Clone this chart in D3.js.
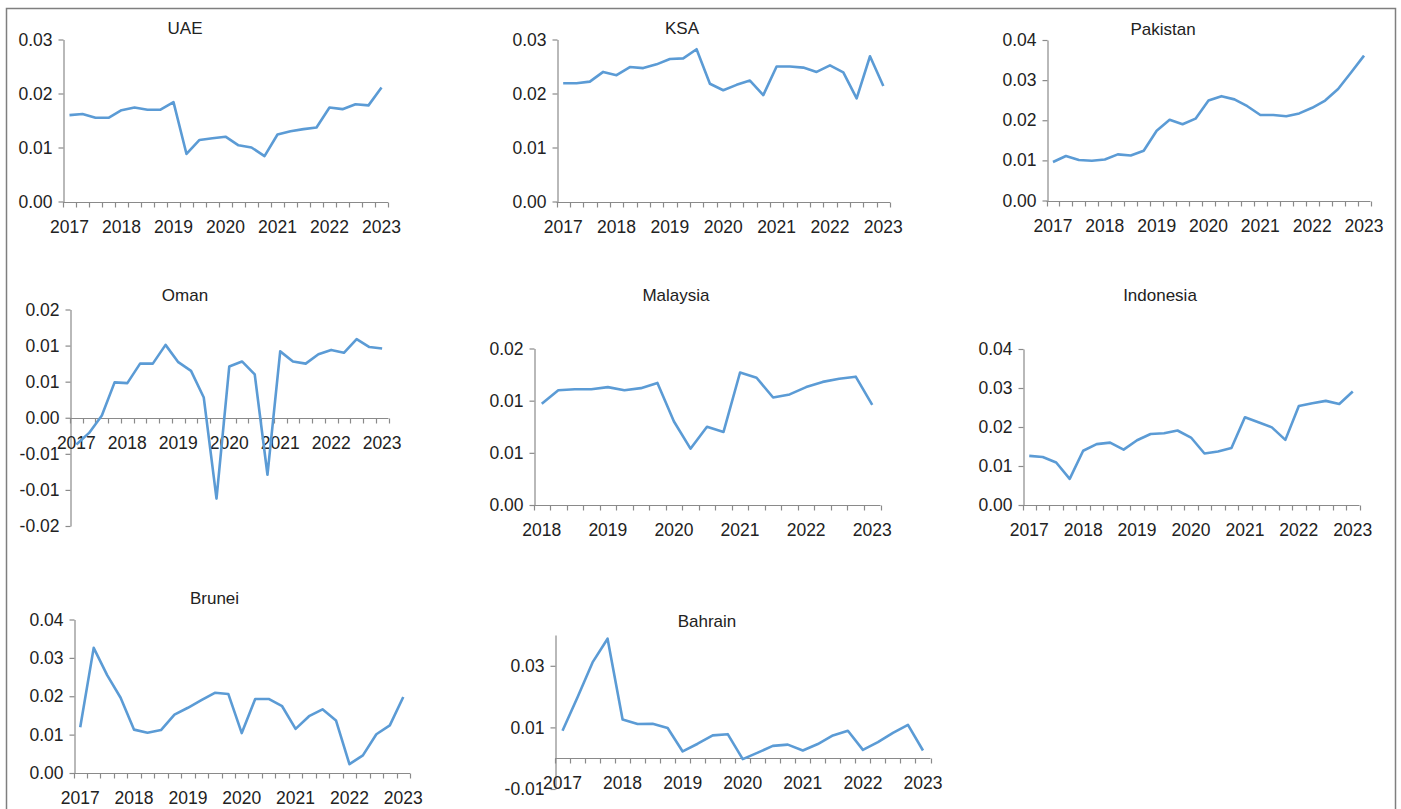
<!DOCTYPE html>
<html>
<head>
<meta charset="utf-8">
<script src="https://cdn.jsdelivr.net/npm/d3@7"></script>
<style>
  html, body { margin: 0; padding: 0; background: #ffffff; }
  svg { display: block; }
  text { font-family: "Liberation Sans", Arial, sans-serif; fill: #222222; }
</style>
</head>
<body>
<svg id="chart" width="1401" height="809"></svg>
<script>
// Quarterly categories
const quarters2017 = ["2017Q1","2017Q2","2017Q3","2017Q4","2018Q1","2018Q2","2018Q3","2018Q4",
  "2019Q1","2019Q2","2019Q3","2019Q4","2020Q1","2020Q2","2020Q3","2020Q4",
  "2021Q1","2021Q2","2021Q3","2021Q4","2022Q1","2022Q2","2022Q3","2022Q4","2023Q1"];
const quarters2018 = ["2018Q1","2018Q2","2018Q3","2018Q4",
  "2019Q1","2019Q2","2019Q3","2019Q4","2020Q1","2020Q2","2020Q3","2020Q4",
  "2021Q1","2021Q2","2021Q3","2021Q4","2022Q1","2022Q2","2022Q3","2022Q4","2023Q1"];

// Series values
const uaeValues = [0.0160,0.0162,0.0155,0.0155,0.0169,0.0174,0.0170,0.0170,0.0184,0.0088,0.0114,0.0117,
  0.0120,0.0104,0.0100,0.0084,0.0124,0.0130,0.0134,0.0137,0.0174,0.0171,0.0180,0.0178,0.0211];
const ksaValues = [0.0219,0.0219,0.0222,0.0240,0.0234,0.0249,0.0247,0.0254,0.0264,0.0265,0.0282,0.0218,
  0.0206,0.0216,0.0224,0.0197,0.0250,0.0250,0.0248,0.0240,0.0252,0.0239,0.0191,0.0269,0.0214];
const pakistanValues = [0.0096,0.0111,0.0101,0.0099,0.0102,0.0115,0.0112,0.0124,0.0174,0.0201,0.0190,0.0204,
  0.0249,0.0260,0.0252,0.0235,0.0213,0.0213,0.0210,0.0217,0.0231,0.0249,0.0278,0.0319,0.0361];
const omanValues = [-0.0037,-0.0021,0.0003,0.0049,0.0048,0.0075,0.0075,0.0101,0.0077,0.0065,0.0028,-0.0112,
  0.0071,0.0078,0.0060,-0.0079,0.0092,0.0078,0.0075,0.0088,0.0094,0.0090,0.0109,0.0098,0.0096];
const malaysiaValues = [0.0097,0.0110,0.0111,0.0111,0.0113,0.0110,0.0112,0.0117,0.0080,0.0054,0.0075,0.0070,
  0.0127,0.0122,0.0103,0.0106,0.0113,0.0118,0.0121,0.0123,0.0096];
const indonesiaValues = [0.0126,0.0123,0.0109,0.0067,0.0139,0.0156,0.0160,0.0142,0.0166,0.0182,0.0184,0.0191,
  0.0173,0.0132,0.0137,0.0146,0.0225,0.0212,0.0199,0.0167,0.0254,0.0261,0.0267,0.0259,0.0291];
const bruneiValues = [0.0119,0.0326,0.0255,0.0196,0.0113,0.0105,0.0112,0.0152,0.0170,0.0190,0.0209,0.0206,
  0.0104,0.0193,0.0193,0.0174,0.0115,0.0148,0.0166,0.0137,0.0023,0.0046,0.0101,0.0124,0.0198];
const bahrainValues = [0.0089,0.0198,0.0311,0.0388,0.0126,0.0111,0.0112,0.0098,0.0022,0.0047,0.0074,0.0078,
  -0.0003,0.0018,0.0040,0.0044,0.0025,0.0046,0.0074,0.0089,0.0027,0.0052,0.0082,0.0108,0.0025];

// Y-axis tick values and their printed labels
const ticks003 = [0, 0.01, 0.02, 0.03];
const labels003 = ["0.00","0.01","0.02","0.03"];
const ticks004 = [0, 0.01, 0.02, 0.03, 0.04];
const labels004 = ["0.00","0.01","0.02","0.03","0.04"];
const ticksOman = [-0.015, -0.01, -0.005, 0, 0.005, 0.01, 0.015];
const labelsOman = ["-0.02","-0.01","-0.01","0.00","0.01","0.01","0.02"];
const ticksMalaysia = [0, 0.005, 0.01, 0.015];
const labelsMalaysia = ["0.00","0.01","0.01","0.02"];
const ticksBahrain = [-0.01, 0.01, 0.03];
const labelsBahrain = ["-0.01","0.01","0.03"];

// Panel layout: axis extents in pixels
const panels = [
  { title: "UAE", cats: quarters2017, values: uaeValues, domain: [0, 0.03], ticks: ticks003, labels: labels003,
    x0: 63, x1: 388, yTop: 39.5, yBot: 201.5, titleX: 185, titleY: 33.5 },
  { title: "KSA", cats: quarters2017, values: ksaValues, domain: [0, 0.03], ticks: ticks003, labels: labels003,
    x0: 556.5, x1: 890, yTop: 39.5, yBot: 201.5, titleX: 682, titleY: 33.5 },
  { title: "Pakistan", cats: quarters2017, values: pakistanValues, domain: [0, 0.04], ticks: ticks004, labels: labels004,
    x0: 1046.5, x1: 1370.5, yTop: 40, yBot: 200.5, titleX: 1163, titleY: 34.5 },
  { title: "Oman", cats: quarters2017, values: omanValues, domain: [-0.015, 0.015], ticks: ticksOman, labels: labelsOman,
    x0: 70, x1: 388.5, yTop: 309.5, yBot: 526, titleX: 185, titleY: 300.5 },
  { title: "Malaysia", cats: quarters2018, values: malaysiaValues, domain: [0, 0.015], ticks: ticksMalaysia, labels: labelsMalaysia,
    x0: 533.5, x1: 880.5, yTop: 348.5, yBot: 505, titleX: 676, titleY: 300.5 },
  { title: "Indonesia", cats: quarters2017, values: indonesiaValues, domain: [0, 0.04], ticks: ticks004, labels: labels004,
    x0: 1022.5, x1: 1359.5, yTop: 349, yBot: 505, titleX: 1160, titleY: 300.5 },
  { title: "Brunei", cats: quarters2017, values: bruneiValues, domain: [0, 0.04], ticks: ticks004, labels: labels004,
    x0: 73.5, x1: 410, yTop: 619.5, yBot: 773, titleX: 214.5, titleY: 604 },
  { title: "Bahrain", cats: quarters2017, values: bahrainValues, domain: [-0.01, 0.04], ticks: ticksBahrain, labels: labelsBahrain,
    x0: 555, x1: 930.5, yTop: 635, yBot: 789, titleX: 707, titleY: 626.5 }
];

const svg = d3.select("#chart");
const axisColor = "#8a8a8a";
const lineColor = "#5B9BD5";
const tickFont = "17.5px";
const titleFont = "17px";

// Outer frame
svg.append("rect")
  .attr("x", 6.5).attr("y", 8.5)
  .attr("width", 1389).attr("height", 830)
  .attr("fill", "none")
  .attr("stroke", "#7f7f7f")
  .attr("stroke-width", 1.5);

panels.forEach(p => {
  const g = svg.append("g");

  const x = d3.scaleBand().domain(p.cats).range([p.x0, p.x1]).paddingInner(0).paddingOuter(0);
  const y = d3.scaleLinear().domain(p.domain).range([p.yBot, p.yTop]);
  const bw = x.bandwidth();
  const axisY = Math.round(y(Math.max(p.domain[0], 0))) + 0.5;

  // Title
  g.append("text")
    .attr("x", p.titleX).attr("y", p.titleY)
    .attr("text-anchor", "middle")
    .style("font-size", titleFont)
    .text(p.title);

  // Y axis
  const yAxis = d3.axisLeft(y)
    .tickValues(p.ticks)
    .tickFormat((d, i) => p.labels[i])
    .tickSizeInner(5)
    .tickSizeOuter(0)
    .tickPadding(6);
  const ya = g.append("g")
    .attr("transform", `translate(${Math.round(p.x0) + 0.5},0)`)
    .call(yAxis);
  ya.select(".domain").attr("stroke", axisColor).attr("stroke-width", 1.2);
  ya.selectAll(".tick line").attr("stroke", axisColor).attr("stroke-width", 1.2);
  ya.selectAll(".tick text")
    .style("font-family", "'Liberation Sans', Arial, sans-serif")
    .style("font-size", tickFont)
    .attr("fill", "#222");

  // X axis line with quarter boundary ticks
  const xa = g.append("g");
  xa.append("line")
    .attr("x1", p.x0).attr("x2", p.x1)
    .attr("y1", axisY).attr("y2", axisY)
    .attr("stroke", axisColor).attr("stroke-width", 1.2);
  const bounds = p.cats.map(c => x(c)).concat([p.x1]);
  xa.selectAll("line.qtick")
    .data(bounds)
    .join("line")
    .attr("class", "qtick")
    .attr("x1", d => Math.round(d) + 0.5).attr("x2", d => Math.round(d) + 0.5)
    .attr("y1", axisY).attr("y2", axisY + 5)
    .attr("stroke", axisColor).attr("stroke-width", 1.2);

  // Year labels at each first quarter
  xa.selectAll("text.year")
    .data(p.cats.filter(c => c.endsWith("Q1")))
    .join("text")
    .attr("class", "year")
    .attr("x", c => x(c) + bw / 2)
    .attr("y", axisY + 30)
    .attr("text-anchor", "middle")
    .style("font-size", tickFont)
    .text(c => c.slice(0, 4));

  // Series line
  const line = d3.line()
    .x((d, i) => x(p.cats[i]) + bw / 2)
    .y(d => y(d));
  g.append("path")
    .datum(p.values)
    .attr("d", line)
    .attr("fill", "none")
    .attr("stroke", lineColor)
    .attr("stroke-width", 2.6)
    .attr("stroke-linejoin", "round")
    .attr("stroke-linecap", "butt");
});
</script>
</body>
</html>
